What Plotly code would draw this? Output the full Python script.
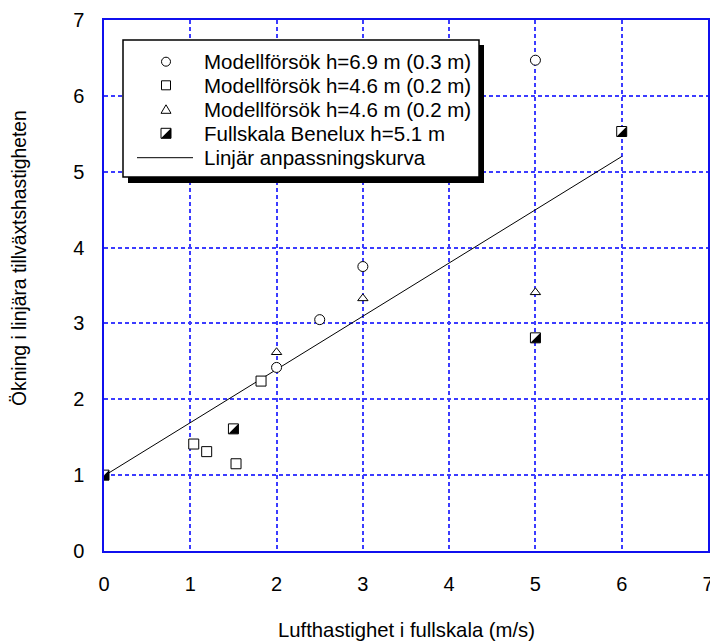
import plotly.graph_objects as go

# ---- data ----
circ_x = [2.0, 2.5, 3.0, 5.0]
circ_y = [2.42, 3.05, 3.75, 6.47]

sq_x = [1.04, 1.19, 1.53, 1.82]
sq_y = [1.41, 1.31, 1.15, 2.24]

tri_x = [2.0, 3.0, 5.0]
tri_y = [2.62, 3.33, 3.41]

full_x = [0.0, 1.5, 5.0, 6.0]
full_y = [1.0, 1.61, 2.81, 5.53]

fit_x = [0.0, 6.0]
fit_y = [0.99, 5.20]

x_ticks = [0, 1, 2, 3, 4, 5, 6, 7]
y_ticks = [0, 1, 2, 3, 4, 5, 6, 7]

legend_labels = [
    "Modellförsök h=6.9 m (0.3 m)",
    "Modellförsök h=4.6 m (0.2 m)",
    "Modellförsök h=4.6 m (0.2 m)",
    "Fullskala Benelux h=5.1 m",
    "Linjär anpassningskurva",
]

x_title = "Lufthastighet i fullskala (m/s)"
y_title = "Ökning i linjära tillväxtshastigheten"

FONT = "Liberation Sans, Arial, sans-serif"
GRID = "#3c3cff"
AXC = "#1010ee"

# plot-area geometry (pixels)
L, R, T, B = 104, 2, 20, 90
W = 710 - L - R   # 604
Hh = 641 - T - B  # 531

fig = go.Figure()

fig.add_trace(go.Scatter(x=fit_x, y=fit_y, mode="lines",
                         line=dict(color="black", width=1), showlegend=False))
mk_line = dict(color="black", width=1)
fig.add_trace(go.Scatter(x=circ_x, y=circ_y, mode="markers", showlegend=False,
                         marker=dict(symbol="circle", size=10, color="white", line=mk_line)))
fig.add_trace(go.Scatter(x=sq_x, y=sq_y, mode="markers", showlegend=False,
                         marker=dict(symbol="square", size=10, color="white", line=mk_line)))
fig.add_trace(go.Scatter(x=tri_x, y=tri_y, mode="markers", showlegend=False,
                         marker=dict(symbol="triangle-up", size=9, color="white", line=mk_line)))
fig.add_trace(go.Scatter(x=full_x, y=full_y, mode="markers", showlegend=False,
                         marker=dict(symbol="square", size=10, color="white", line=mk_line)))

shapes = []
HS = 5  # half size of marker in px
tri_half_path = f"M {HS},{HS} L {HS},-{HS} L -{HS},-{HS} Z"
for xv, yv in zip(full_x, full_y):
    shapes.append(dict(type="path", xref="x", yref="y", xsizemode="pixel", ysizemode="pixel",
                       xanchor=xv, yanchor=yv, path=tri_half_path,
                       fillcolor="black", line=dict(width=0), layer="above"))

# ---- manual legend ----
def px(xp):
    return (xp - L) / W
def py(yp):
    return (T + Hh - yp) / Hh

# shadow
shapes.append(dict(type="rect", xref="paper", yref="paper",
                   x0=px(128), x1=px(484), y0=py(183), y1=py(45),
                   fillcolor="black", line=dict(width=0), layer="above"))
# box
shapes.append(dict(type="rect", xref="paper", yref="paper",
                   x0=px(123), x1=px(479), y0=py(177), y1=py(40),
                   fillcolor="white", line=dict(color="black", width=1.5), layer="above"))

rows = [61.7, 85.3, 109.3, 133.3, 157.7]
sym_x = px(166)
# circle
shapes.append(dict(type="circle", xref="paper", yref="paper", xsizemode="pixel", ysizemode="pixel",
                   xanchor=sym_x, yanchor=py(rows[0]), x0=-4.5, x1=4.5, y0=-4.5, y1=4.5,
                   fillcolor="white", line=dict(color="black", width=1), layer="above"))
# square
shapes.append(dict(type="rect", xref="paper", yref="paper", xsizemode="pixel", ysizemode="pixel",
                   xanchor=sym_x, yanchor=py(rows[1]), x0=-4.5, x1=4.5, y0=-4.5, y1=4.5,
                   fillcolor="white", line=dict(color="black", width=1), layer="above"))
# triangle
shapes.append(dict(type="path", xref="paper", yref="paper", xsizemode="pixel", ysizemode="pixel",
                   xanchor=sym_x, yanchor=py(rows[2]), path="M -5,-4 L 5,-4 L 0,4.5 Z",
                   fillcolor="white", line=dict(color="black", width=1), layer="above"))
# half-filled square
shapes.append(dict(type="rect", xref="paper", yref="paper", xsizemode="pixel", ysizemode="pixel",
                   xanchor=sym_x, yanchor=py(rows[3]), x0=-5, x1=5, y0=-5, y1=5,
                   fillcolor="white", line=dict(color="black", width=1), layer="above"))
shapes.append(dict(type="path", xref="paper", yref="paper", xsizemode="pixel", ysizemode="pixel",
                   xanchor=sym_x, yanchor=py(rows[3]), path=tri_half_path,
                   fillcolor="black", line=dict(width=0), layer="above"))
# line sample
shapes.append(dict(type="line", xref="paper", yref="paper",
                   x0=px(137), x1=px(193), y0=py(rows[4]), y1=py(rows[4]),
                   line=dict(color="black", width=1), layer="above"))

annotations = []
for lab, r in zip(legend_labels, rows):
    annotations.append(dict(x=px(202), y=py(r), xref="paper", yref="paper", text=lab,
                            showarrow=False, xanchor="left", yanchor="middle",
                            font=dict(family=FONT, size=20.5, color="black")))

annotations.append(dict(x=0.5, y=py(630), xref="paper", yref="paper", text=x_title,
                        showarrow=False, xanchor="center", yanchor="middle",
                        font=dict(family=FONT, size=20.3, color="black")))
annotations.append(dict(x=px(19), y=py(258), xref="paper", yref="paper", text=y_title,
                        showarrow=False, xanchor="center", yanchor="middle", textangle=-90,
                        font=dict(family=FONT, size=19.3, color="black")))

axis_common = dict(
    showgrid=True, gridcolor=GRID, griddash="4px,3px", gridwidth=1.6,
    showline=True, linecolor=AXC, linewidth=1.5, mirror=True,
    zeroline=False, ticks="", tickfont=dict(family=FONT, size=20, color="black"),
    fixedrange=True, ticklabeloverflow="allow", automargin=False,
)
fig.update_xaxes(range=[0, 7], tickmode="array", tickvals=x_ticks,
                 ticktext=[str(v) for v in x_ticks], ticklabelstandoff=14, **axis_common)
fig.update_yaxes(range=[0, 7], tickmode="array", tickvals=y_ticks,
                 ticktext=[str(v) for v in y_ticks], ticklabelstandoff=14, **axis_common)

fig.update_layout(
    width=710, height=641,
    margin=dict(l=L, r=R, t=T, b=B, pad=0, autoexpand=False),
    paper_bgcolor="white", plot_bgcolor="white",
    shapes=shapes, annotations=annotations,
    showlegend=False,
    font=dict(family=FONT, size=20, color="black"),
)

fig.write_html("out.html", config={"displayModeBar": False},
               post_script="document.body.style.margin='0';document.body.style.overflow='hidden';")
